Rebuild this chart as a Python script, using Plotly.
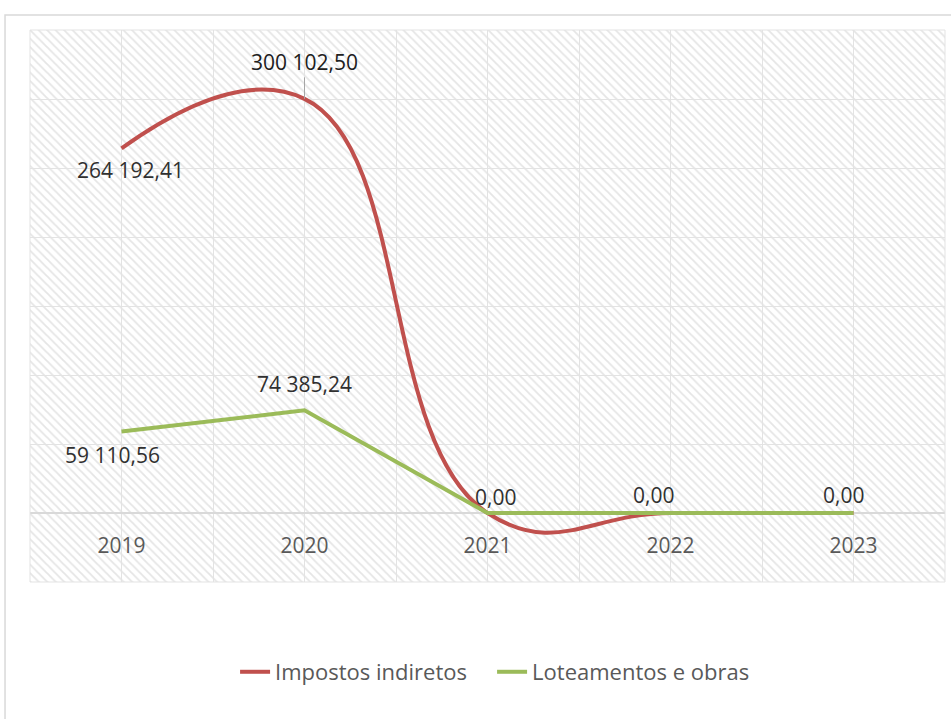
import plotly.graph_objects as go

# data
years = [2019, 2020, 2021, 2022, 2023]
impostos_indiretos = [264192.41, 300102.50, 0.00, 0.00, 0.00]
loteamentos_obras = [59110.56, 74385.24, 0.00, 0.00, 0.00]
series_names = ["Impostos indiretos", "Loteamentos e obras"]


def fmt(v):
    # Portuguese style: space thousands, comma decimals
    s = f"{v:,.2f}"
    return s.replace(",", " ").replace(".", ",")


RED = "#C0504D"
GREEN = "#9BBB59"
FONT = "Open Sans"

fig = go.Figure()

# hatched plot-area background on the hidden x/y subplot
fig.add_trace(go.Scatter(
    x=[0, 1, 1, 0, 0], y=[0, 0, 1, 1, 0],
    mode="none", fill="toself", fillcolor="rgba(0,0,0,0)",
    fillpattern=dict(shape="\\", fgcolor="#CCCCCC", bgcolor="rgba(0,0,0,0)",
                     size=6, solidity=0.3),
    hoverinfo="skip", showlegend=False,
    xaxis="x", yaxis="y",
))

fig.add_trace(go.Scatter(
    x=years, y=impostos_indiretos, name=series_names[0],
    mode="lines", line=dict(color=RED, width=4, shape="spline", smoothing=1.3),
    xaxis="x2", yaxis="y2",
))
fig.add_trace(go.Scatter(
    x=years, y=loteamentos_obras, name=series_names[1],
    mode="lines", line=dict(color=GREEN, width=4),
    xaxis="x2", yaxis="y2",
))

# data labels: (series values, index, xshift, yshift)
label_spec = [
    (impostos_indiretos, 0, 9, -22),
    (loteamentos_obras, 0, -9, -24),
    (loteamentos_obras, 1, 0, 26),
    (loteamentos_obras, 2, 8, 16),
    (loteamentos_obras, 3, -17, 18),
    (loteamentos_obras, 4, -10, 18),
]
for vals, i, dx, dy in label_spec:
    fig.add_annotation(
        x=years[i], y=vals[i], xref="x2", yref="y2", text=fmt(vals[i]),
        showarrow=False, xshift=dx, yshift=dy,
        font=dict(family=FONT, size=21, color="#303030"),
    )
# leader line for the 2020 value
fig.add_annotation(
    x=years[1], y=impostos_indiretos[1], xref="x2", yref="y2",
    text=fmt(impostos_indiretos[1]), showarrow=True, arrowhead=0,
    arrowwidth=1, arrowcolor="#A6A6A6", ax=0, ay=-37, standoff=0,
    font=dict(family=FONT, size=21, color="#202020"),
)

# chart-area border and plot-area frame
fig.add_shape(type="rect", xref="paper", yref="paper",
              x0=-0.0273, x1=1.2, y0=-0.5, y1=1.0272,
              line=dict(color="#D9D9D9", width=1.5), fillcolor="rgba(0,0,0,0)")
fig.add_shape(type="rect", xref="paper", yref="paper",
              x0=0, x1=1, y0=0, y1=1,
              line=dict(color="#E3E3E3", width=1), fillcolor="rgba(0,0,0,0)")

grid = "#E3E3E3"
half_ticks = [y - 0.5 for y in years] + [years[-1] + 0.5]
tickvals = sorted(years + half_ticks)
ticktext = [str(v) if v in years else "" for v in tickvals]

fig.update_layout(
    width=951, height=719,
    margin=dict(l=30, r=6, t=30, b=137),
    paper_bgcolor="white", plot_bgcolor="rgba(0,0,0,0)",
    font=dict(family=FONT, color="#595959"),
    xaxis=dict(range=[0, 1], visible=False, fixedrange=True),
    yaxis=dict(range=[0, 1], visible=False, fixedrange=True),
    xaxis2=dict(
        range=[years[0] - 0.5, years[-1] + 0.5], anchor="free", position=0.125,
        tickvals=tickvals, ticktext=ticktext, automargin=False,
        showgrid=True, gridcolor=grid, gridwidth=1,
        showline=False, zeroline=False,
        ticks="outside", ticklen=14, tickcolor="rgba(0,0,0,0)",
        tickfont=dict(family=FONT, size=21, color="#595959"),
    ),
    yaxis2=dict(
        range=[-50000, 350000], dtick=50000, anchor="x2", automargin=False,
        showgrid=True, gridcolor=grid, gridwidth=1,
        zeroline=True, zerolinecolor="#D9D9D9", zerolinewidth=1.5,
        showticklabels=False, ticks="",
    ),
    legend=dict(
        orientation="h", x=0.505, xanchor="center", y=-0.163, yanchor="middle",
        font=dict(family=FONT, size=22, color="#595959"),
        entrywidth=212, entrywidthmode="pixels", tracegroupgap=0,
    ),
    showlegend=True,
)

fig.write_html("out.html", config={"displayModeBar": False},
               post_script="document.body.style.margin='0';")
